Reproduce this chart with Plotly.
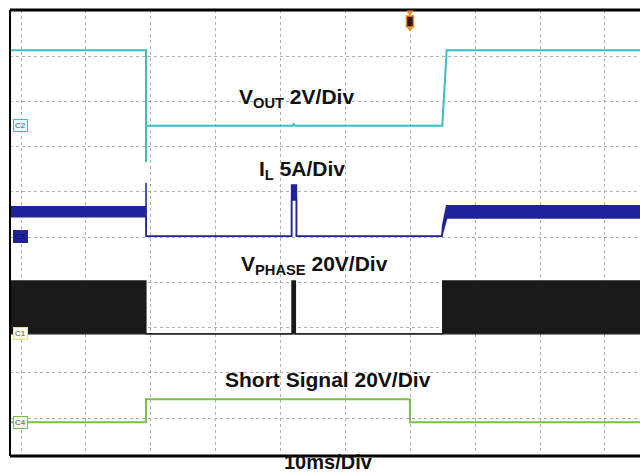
import plotly.graph_objects as go

# ---- data (time in ms, amplitude in screen divisions) ----
t_left, t_right = -1.7, 95.4

vout_t = [-1.7, 19.26, 19.26, 19.26, 19.3, 41.9, 42.0, 42.3, 64.93, 65.6, 95.4]
vout_v = [9.13, 9.13, 6.66, 7.46, 7.46, 7.46, 7.50, 7.46, 7.46, 9.13, 9.13]

il_top_t = [-1.7, 19.26, 19.26, 19.3, 41.7, 41.7, 42.45, 42.45, 64.85, 65.0, 65.6, 95.4]
il_top_v = [5.67, 5.67, 6.20, 5.02, 5.02, 6.15, 6.15, 5.02, 5.02, 5.27, 5.69, 5.69]
il_bot_t = [-1.7, 19.26, 19.3, 41.7, 41.7, 42.45, 42.45, 64.85, 65.0, 65.6, 95.4]
il_bot_v = [5.45, 5.45, 5.02, 5.02, 5.82, 5.82, 5.02, 5.02, 5.10, 5.42, 5.42]

vph_top_t = [-1.7, 19.26, 19.26, 41.75, 41.75, 42.3, 42.3, 64.98, 64.98, 95.4]
vph_top_v = [4.03, 4.03, 2.86, 2.86, 4.03, 4.03, 2.86, 2.86, 4.03, 4.03]
vph_bot_t = [-1.7, 95.4]
vph_bot_v = [2.86, 2.86]

short_t = [-1.7, 19.26, 19.26, 59.94, 59.94, 95.4]
short_v = [0.906, 0.906, 1.414, 1.414, 0.906, 0.906]

channel_names = ["C2", "C3", "C1", "C4"]
channel_offsets = [7.46, 5.02, 2.86, 0.906]
trigger_time = 59.94

labels = ["<b>V<sub>OUT</sub> 2V/Div</b>", "<b>I<sub>L</sub> 5A/Div</b>",
          "<b>V<sub>PHASE</sub> 20V/Div</b>", "<b>Short Signal 20V/Div</b>"]
label_t = [42.48, 43.37, 45.3, 47.3]
label_y = [8.07, 6.49, 4.38, 1.85]
time_label = "<b>10ms/Div</b>"

# ---- styles ----
C_VOUT = "#3bbfc4"
C_IL = "#1f239c"
C_VPH = "#1b1a1a"
C_SHORT = "#7bc043"
tag_styles = {
    "C2": dict(border=C_VOUT, bg="#e6f8f8", fc="#3a6a70"),
    "C3": dict(border=C_IL, bg=C_IL, fc="#0c0c50"),
    "C1": dict(border="#f2e27a", bg="#fffbe6", fc="#555555"),
    "C4": dict(border=C_SHORT, bg="#f0f8e8", fc="#555555"),
}

fig = go.Figure()
fig.add_trace(go.Scatter(x=vph_bot_t, y=vph_bot_v, mode="lines",
                         line=dict(color=C_VPH, width=1.2), showlegend=False))
fig.add_trace(go.Scatter(x=vph_top_t, y=vph_top_v, mode="lines", fill="tonexty",
                         fillcolor=C_VPH, line=dict(color=C_VPH, width=1.2),
                         showlegend=False))
fig.add_trace(go.Scatter(x=il_bot_t, y=il_bot_v, mode="lines",
                         line=dict(color=C_IL, width=1.5), showlegend=False))
fig.add_trace(go.Scatter(x=il_top_t, y=il_top_v, mode="lines", fill="tonexty",
                         fillcolor=C_IL, line=dict(color=C_IL, width=1.5),
                         showlegend=False))
fig.add_trace(go.Scatter(x=vout_t, y=vout_v, mode="lines",
                         line=dict(color=C_VOUT, width=2), showlegend=False))
fig.add_trace(go.Scatter(x=short_t, y=short_v, mode="lines",
                         line=dict(color=C_SHORT, width=2), showlegend=False))

font_family = "Liberation Sans, Arial, sans-serif"
annotations = []
for txt, tx, ty in zip(labels, label_t, label_y):
    annotations.append(dict(x=tx, y=ty, xref="x", yref="y", text=txt, showarrow=False,
                            font=dict(family=font_family, size=21, color="#111111"),
                            xanchor="center", yanchor="middle"))
annotations.append(dict(x=0.506, y=0, xref="paper", yref="paper", text=time_label,
                        showarrow=False, yanchor="top", yshift=7,
                        font=dict(family=font_family, size=20, color="#111111")))
for name, off in zip(channel_names, channel_offsets):
    st = tag_styles[name]
    annotations.append(dict(x=0.004, y=off, xref="paper", yref="y", text=name,
                            showarrow=False, xanchor="left", yanchor="middle",
                            font=dict(family=font_family, size=8, color=st["fc"]),
                            bgcolor=st["bg"], bordercolor=st["border"], borderwidth=1,
                            borderpad=1))

shapes = [
    dict(type="line", xref="paper", yref="paper", x0=0, x1=1, y0=1, y1=1,
         line=dict(color="#000000", width=3)),
    dict(type="line", xref="paper", yref="paper", x0=0, x1=1, y0=0, y1=0,
         line=dict(color="#000000", width=3)),
    dict(type="line", xref="paper", yref="paper", x0=0, x1=0, y0=0, y1=1,
         line=dict(color="#000000", width=2)),
    # trigger marker (pixel sized, anchored at trigger time / top edge)
    dict(type="path", xref="x", yref="paper", xsizemode="pixel", ysizemode="pixel",
         xanchor=trigger_time, yanchor=1, path="M-3,-1 L3,-1 L0,-5 Z",
         fillcolor="#f08a20", line=dict(color="#f08a20", width=1)),
    dict(type="rect", xref="x", yref="paper", xsizemode="pixel", ysizemode="pixel",
         xanchor=trigger_time, yanchor=1, x0=-3.5, x1=3.5, y0=-6, y1=-17,
         fillcolor="#2a1a0a", line=dict(color="#f08a20", width=1.5)),
    dict(type="path", xref="x", yref="paper", xsizemode="pixel", ysizemode="pixel",
         xanchor=trigger_time, yanchor=1, path="M-2,-18 L2,-18 L0,-21 Z",
         fillcolor="#f08a20", line=dict(color="#f08a20", width=1)),
]

fig.update_layout(
    width=640, height=472,
    margin=dict(l=10, r=0, t=10, b=16),
    paper_bgcolor="white", plot_bgcolor="white",
    annotations=annotations, shapes=shapes,
    xaxis=dict(range=[t_left, t_right], tick0=0, dtick=10, showgrid=True,
               gridcolor="#b0b0b0", griddash="dot", gridwidth=1,
               showticklabels=False, zeroline=False, ticks=""),
    yaxis=dict(range=[0.16, 10.02], tick0=0, dtick=1, showgrid=True,
               gridcolor="#b0b0b0", griddash="dot", gridwidth=1,
               showticklabels=False, zeroline=False, ticks=""),
)

fig.write_html("out.html", config={"displayModeBar": False},
               post_script="document.body.style.margin='0px';document.body.style.overflow='hidden';")
